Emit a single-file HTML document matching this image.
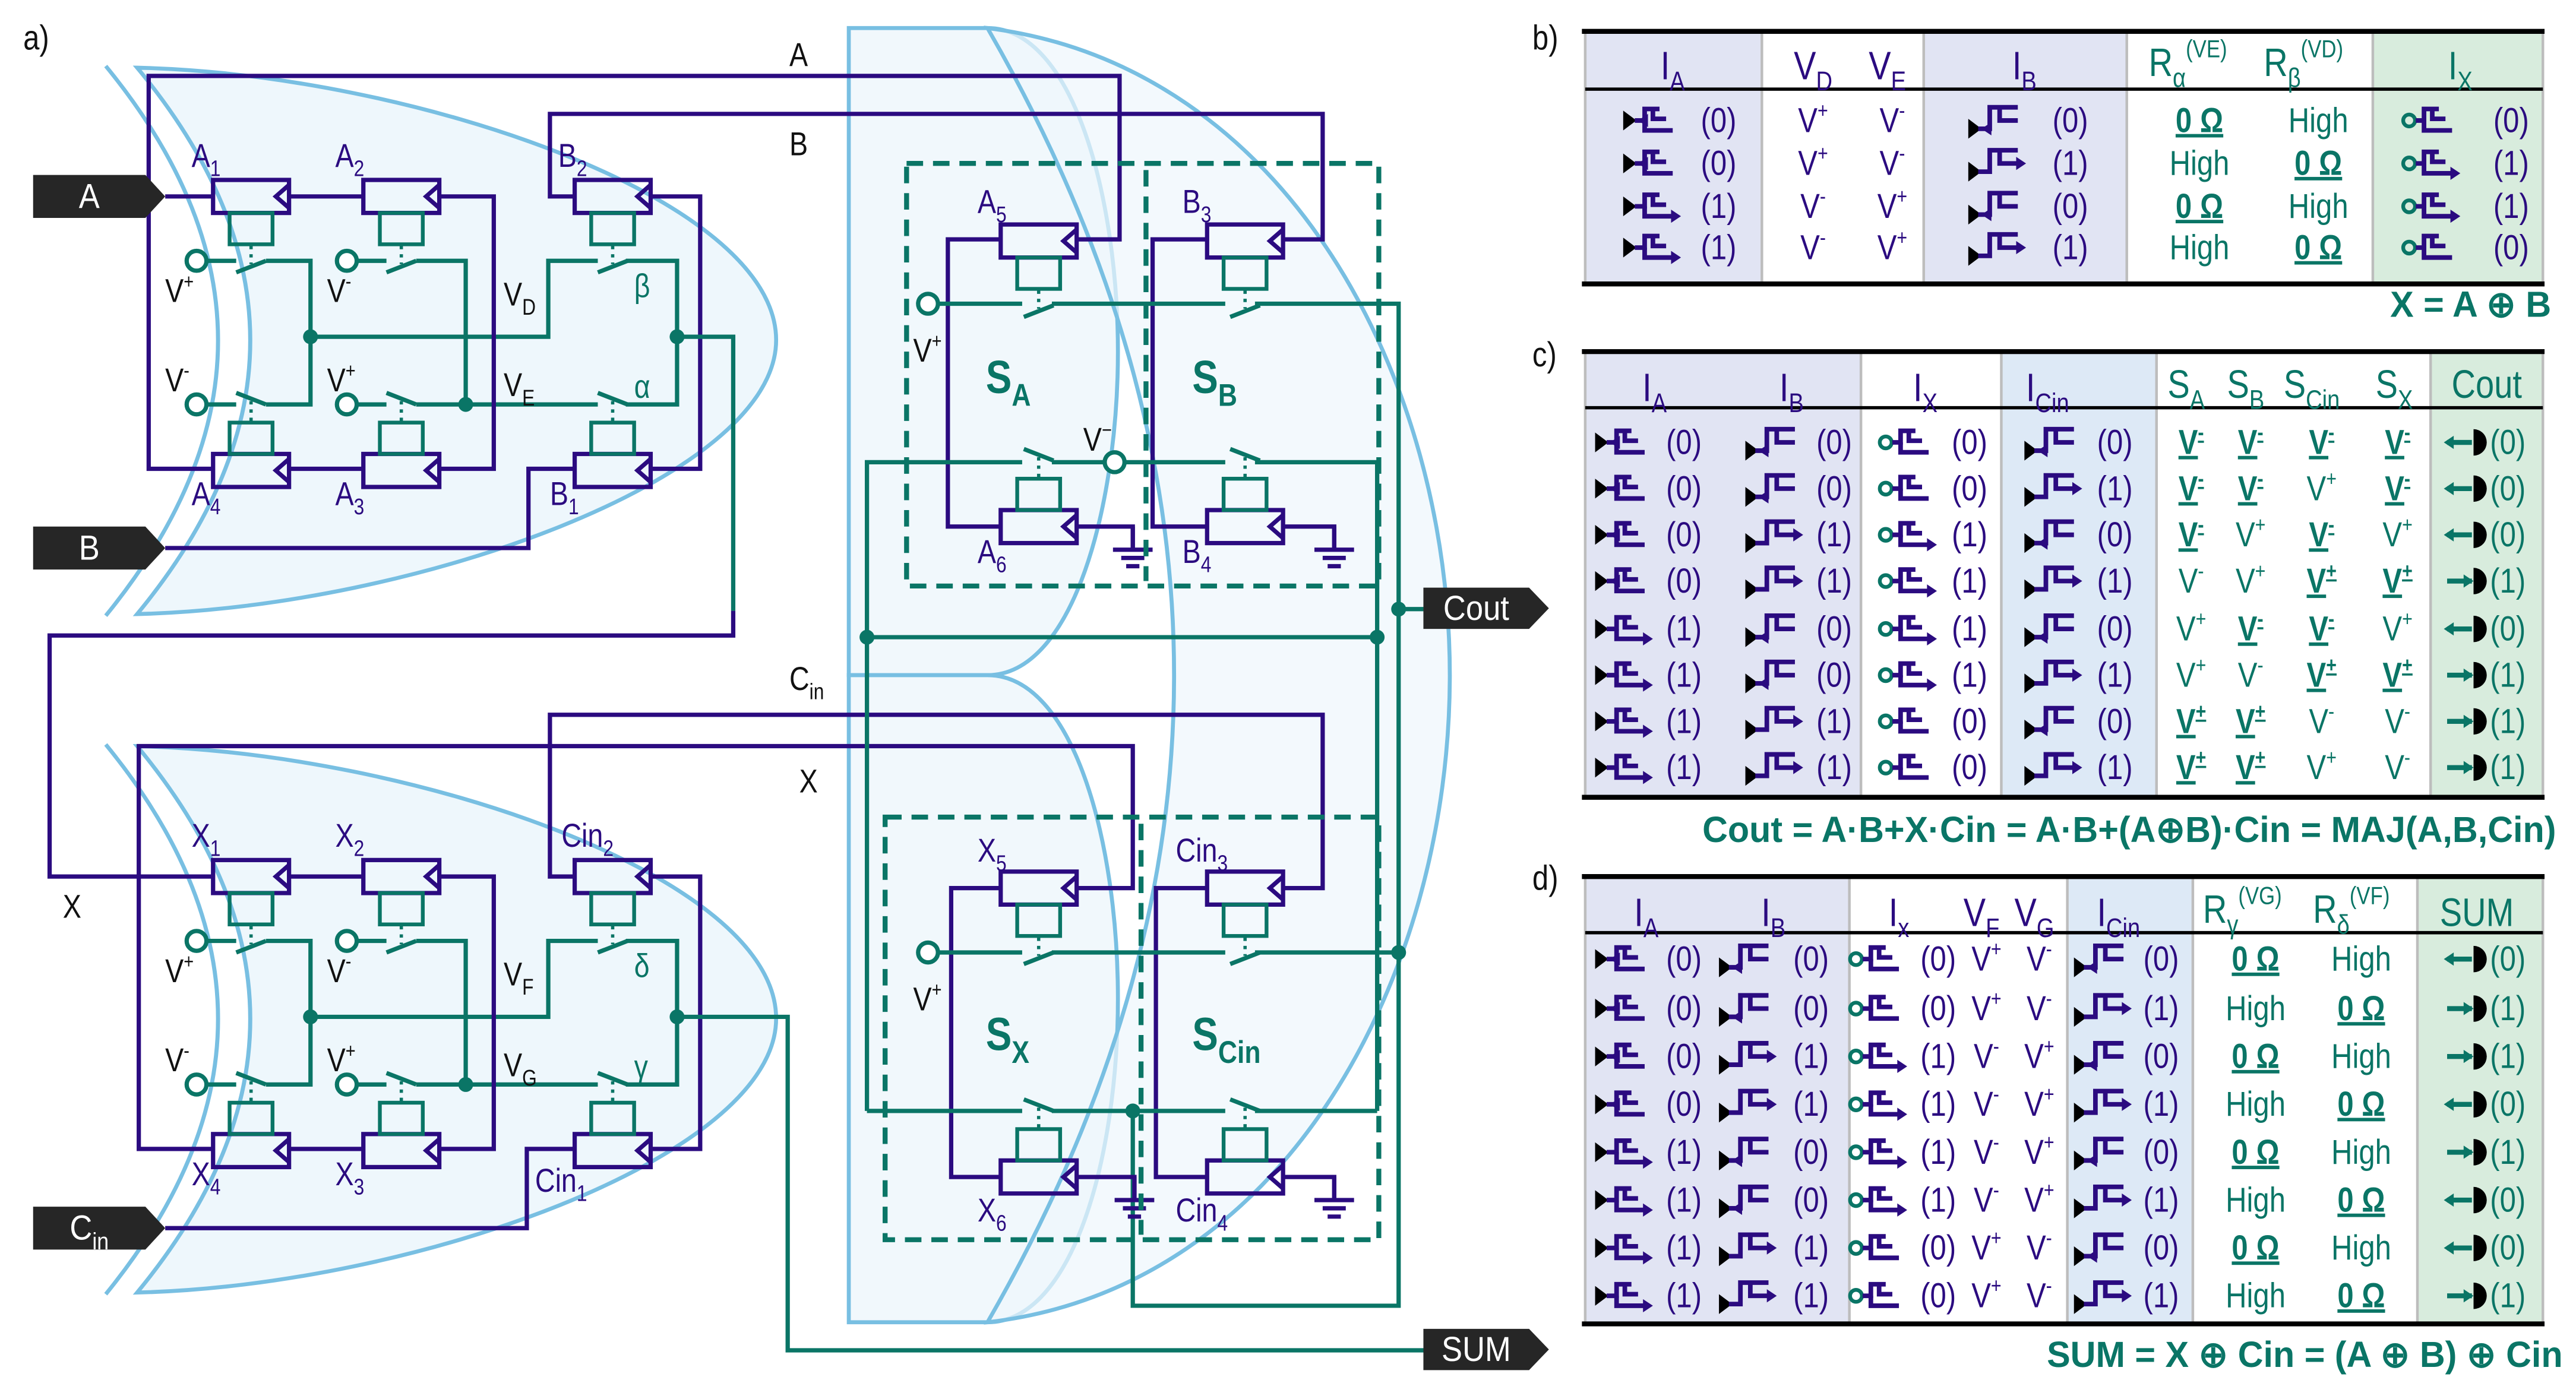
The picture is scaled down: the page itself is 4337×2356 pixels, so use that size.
<!DOCTYPE html>
<html><head><meta charset="utf-8"><style>
html,body{margin:0;padding:0;background:#fff;}
svg{display:block;}
</style></head><body>
<svg id="s" xmlns="http://www.w3.org/2000/svg" width="4337" height="2356" viewBox="0 0 1560 847.5" font-family="'Liberation Sans Narrow','Liberation Sans',sans-serif"></svg>
<script>
const P='#2b0b80',T='#0a7566',BF='#eef7fc',BS='#78bfe2',K='#111';
let s='';
const p=(d,c,w=2.6,ex='')=>{s+=`<path d="${d}" fill="none" stroke="${c}" stroke-width="${w}" stroke-linejoin="miter" ${ex}/>`;};
const dot=(x,y,c=T,r=4.5)=>{s+=`<circle cx="${x}" cy="${y}" r="${r}" fill="${c}"/>`;};
const circ=(x,y)=>{s+=`<circle cx="${x}" cy="${y}" r="6" fill="#fff" stroke="${T}" stroke-width="2.6"/>`;};
function txt(x,y,main,o={}){
  const sz=o.size||20,c=o.c||K,a=o.a||'start',w=o.bold?'bold':'normal',sc=o.sc||0.84;
  let t=`<text transform="translate(${x},${y}) scale(${sc},1)" x="0" y="0" font-size="${sz}" fill="${c}" text-anchor="${a}" font-weight="${w}"${o.u?' text-decoration="underline"':''}>${main}`;
  if(o.sub){t+=`<tspan font-size="${sz*.68}" dy="${sz*.28}">${o.sub}</tspan>`;}
  if(o.sup){t+=`<tspan font-size="${sz*.62}" dy="${o.sub?-sz*.75:-sz*.42}">${o.sup}</tspan>`;}
  t+='</text>';s+=t;
}
function relay(x,y,below){
  s+=`<rect x="${x}" y="${y}" width="46" height="20" fill="none" stroke="${P}" stroke-width="2.6"/>`;
  p(`M${x+46},${y+3} L${x+38},${y+10} L${x+46},${y+17}`,P,2.6);
  if(below){s+=`<rect x="${x+10}" y="${y+20}" width="26" height="19" fill="none" stroke="${T}" stroke-width="2.3"/>`;
    const ys=y+49;p(`M${x+14},${ys+7} L${x+32},${ys}`,T,2.6);p(`M${x+23},${y+40} V${ys+2}`,T,2,'stroke-dasharray="2,3"');}
  else{s+=`<rect x="${x+10}" y="${y-19}" width="26" height="19" fill="none" stroke="${T}" stroke-width="2.3"/>`;
    const ys=y-30;p(`M${x+14},${ys-7} L${x+32},${ys}`,T,2.6);p(`M${x+23},${ys-2} V${y-20}`,T,2,'stroke-dasharray="2,3"');}
}
function tag(x,y,w,h,label,sub){
  s+=`<path d="M${x},${y} H${x+w-12} L${x+w},${y+h/2} L${x+w-12},${y+h} H${x} Z" fill="#262626"/>`;
  txt(x+(w-12)/2,y+h/2+7,label,{c:'#fff',a:'middle',size:21,sub:sub,sc:0.9});
}
function xorShape(dy){
  s+=`<path d="M83,${41+dy} C250,${45+dy} 470,${120+dy} 470,${206+dy} C470,${290+dy} 250,${368+dy} 83,${372+dy} Q220,${206+dy} 83,${41+dy} Z" fill="${BF}" stroke="${BS}" stroke-width="2.4"/>`;
  p(`M64,${40+dy} Q200,${206+dy} 64,${373+dy}`,BS,2.4);
}
xorShape(0);xorShape(411);
s+=`<path d="M514,17 H598 C650,17 677,120 677,213 C677,306 650,409 598,409 H514 Z" fill="${BF}" fill-opacity="0.85" stroke="${BS}" stroke-width="2.4"/>`;
s+=`<path d="M514,409 H598 C650,409 677,510 677,605 C677,700 650,801 598,801 H514 Z" fill="${BF}" fill-opacity="0.85" stroke="${BS}" stroke-width="2.4"/>`;
s+=`<path d="M598,17 C780,40 878,230 878,409 C878,590 780,780 598,801 Q824,409 598,17 Z" fill="${BF}" fill-opacity="0.7" stroke="${BS}" stroke-width="2.4"/>`;
function leftTeal(dy){
  circ(119,158+dy);circ(210,158+dy);circ(119,245+dy);circ(210,245+dy);
  p(`M125,${158+dy} H143`,T);p(`M161,${158+dy} H188 V${245+dy} H161`,T);p(`M125,${245+dy} H143`,T);
  p(`M216,${158+dy} H234`,T);p(`M252,${158+dy} H282 V${245+dy} H252`,T);p(`M216,${245+dy} H234`,T);
  p(`M188,${204+dy} H332 V${158+dy} H362`,T);p(`M379,${158+dy} H410 V${245+dy} H379`,T);p(`M362,${245+dy} H282`,T);
  dot(188,204+dy);dot(282,245+dy);dot(410,204+dy);
  [129,220,348].forEach(x=>{relay(x,109+dy,true);relay(x,275+dy,false);});
  p(`M176,${119+dy} H220`,P);p(`M267,${119+dy} H299 V${284+dy} H267`,P);p(`M220,${284+dy} H176`,P);
  p(`M394,${119+dy} H424 V${284+dy} H394`,P);
}
leftTeal(0);leftTeal(412);
p(`M100,119 H129`,P);
p(`M653,145 H678 V46 H90 V284 H129`,P);
p(`M777,145 H801 V69 H333 V119 H348`,P);
p(`M348,284 H320 V332 H100`,P);
p(`M653,538 H686 V452 H84 V696 H129`,P);
p(`M444,370 V385 H30 V531 H129`,P);
p(`M777,538 H801 V433 H333 V531 H348`,P);
p(`M348,696 H319 V744 H100`,P);
p(`M410,204 H444 V370`,T);
p(`M410,616 H477 V818 H866`,T);
function ground(x,y){p(`M${x},${y-14} V${y}`,P);p(`M${x-12},${y} H${x+12}`,P);p(`M${x-7},${y+5} H${x+7}`,P);p(`M${x-4},${y+10} H${x+4}`,P);}
relay(606,136,true);relay(731,136,true);relay(606,309,false);relay(731,309,false);
p(`M606,145 H574 V319 H606`,P);p(`M653,319 H686 V333`,P);ground(686,333);
p(`M731,145 H698 V319 H731`,P);p(`M777,319 H808 V333`,P);ground(808,333);
circ(562,184);
p(`M568,184 H619`,T);p(`M637,184 H742`,T);p(`M760,184 H847 V791 H686 V673`,T);
p(`M525,673 V280 H619`,T);p(`M637,280 H669`,T);circ(675,280);p(`M681,280 H742`,T);p(`M760,280 H834 V673`,T);
p(`M525,386 H834`,T);dot(525,386);dot(834,386);dot(847,369);p(`M847,369 H862`,T);
relay(606,528,true);relay(731,528,true);relay(606,703,false);relay(731,703,false);
p(`M606,538 H576 V713 H606`,P);p(`M653,713 H687 V727`,P);ground(687,727);
p(`M731,538 H700 V713 H731`,P);p(`M777,713 H808 V727`,P);ground(808,727);
circ(562,577);p(`M568,577 H619`,T);p(`M637,577 H742`,T);p(`M760,577 H847`,T);dot(847,577);
p(`M525,673 H619`,T);p(`M637,673 H742`,T);p(`M760,673 H834`,T);dot(686,673);
const DA='stroke-dasharray="10,6"';
s+=`<rect x="549" y="99" width="286" height="256" fill="none" stroke="${T}" stroke-width="3" ${DA}/>`;
p(`M694,103 V352`,T,3,DA);
s+=`<rect x="536" y="495" width="299" height="256" fill="none" stroke="${T}" stroke-width="3" ${DA}/>`;
p(`M691,499 V748`,T,3,DA);
tag(20,106,80,26,'A');tag(20,319,80,26,'B');tag(20,731,80,26,'C','in');
tag(862,356,76,25,'Cout');tag(862,805,76,25,'SUM');
txt(14,30,'a)',{size:21});txt(928,30,'b)',{size:21});txt(928,222,'c)',{size:21});txt(928,539,'d)',{size:21});
txt(478,40,'A',{size:20});txt(478,94,'B',{size:20});txt(478,418,'C',{size:20,sub:'in'});txt(484,480,'X',{size:20});txt(38,556,'X',{size:20});
const pl={c:P,size:20};
txt(116,101,'A',{...pl,sub:'1'});txt(203,101,'A',{...pl,sub:'2'});txt(338,101,'B',{...pl,sub:'2'});
txt(116,306,'A',{...pl,sub:'4'});txt(203,306,'A',{...pl,sub:'3'});txt(333,306,'B',{...pl,sub:'1'});
txt(116,513,'X',{...pl,sub:'1'});txt(203,513,'X',{...pl,sub:'2'});txt(340,513,'Cin',{...pl,sub:'2'});
txt(116,718,'X',{...pl,sub:'4'});txt(203,718,'X',{...pl,sub:'3'});txt(324,722,'Cin',{...pl,sub:'1'});
[[0,'D','E','β','α'],[412,'F','G','δ','γ']].forEach(([dy,a,b,g1,g2])=>{
  txt(100,183+dy,'V',{sup:'+'});txt(198,183+dy,'V',{sup:'-'});txt(305,185+dy,'V',{sub:a});txt(384,180+dy,g1,{c:T});
  txt(100,237+dy,'V',{sup:'-'});txt(198,237+dy,'V',{sup:'+'});txt(305,240+dy,'V',{sub:b});txt(384,241+dy,g2,{c:T});
});
txt(592,129,'A',{...pl,sub:'5'});txt(716,129,'B',{...pl,sub:'3'});txt(592,341,'A',{...pl,sub:'6'});txt(716,341,'B',{...pl,sub:'4'});
txt(592,522,'X',{...pl,sub:'5'});txt(712,522,'Cin',{...pl,sub:'3'});txt(592,740,'X',{...pl,sub:'6'});txt(712,740,'Cin',{...pl,sub:'4'});
txt(553,219,'V',{sup:'+'});txt(656,273,'V',{sup:'−'});txt(553,612,'V',{sup:'+'});
const sb={c:T,size:28,bold:true};
txt(597,238,'S',{...sb,sub:'A'});txt(722,238,'S',{...sb,sub:'B'});txt(597,636,'S',{...sb,sub:'X'});txt(722,636,'S',{...sb,sub:'Cin'});
function arrowHead(x,y,dir,c){s+=`<path d="M${x},${y} l${-6*dir},-4 v8 Z" fill="${c}"/>`;}
function icon(kind,x,yc,st){
  const c=P;
  if(kind==='A'){s+=`<path d="M${x},${yc-6} L${x+8},${yc} L${x},${yc+6} Z" fill="#000"/>`;
    p(`M${x+7},${yc} H${x+13} V${yc-7} H${x+22}`,c,2.8);p(`M${x+13},${yc} V${yc+6} H${x+30}`,c,2.8);p(`M${x+18},${yc-7} V${yc-1} H${x+26}`,c,2.8);
    if(st)arrowHead(x+35,yc+6,1,c);else arrowHead(x+9,yc,-1,c);}
  else if(kind==='B'){s+=`<path d="M${x},${yc-1} L${x+8},${yc+5} L${x},${yc+11} Z" fill="#000"/>`;
    p(`M${x+6},${yc+5} H${x+13} V${yc-8} H${x+30}`,c,2.8);p(`M${x+19},${yc-8} V${yc} H${x+30}`,c,2.8);
    if(st)arrowHead(x+35,yc,1,c);else arrowHead(x+8,yc+5,-1,c);}
  else if(kind==='X'){s+=`<circle cx="${x+4}" cy="${yc}" r="3.6" fill="none" stroke="${T}" stroke-width="2.3"/>`;
    p(`M${x+8},${yc} H${x+13} V${yc-7} H${x+22}`,c,2.8);p(`M${x+13},${yc} V${yc+6} H${x+30}`,c,2.8);p(`M${x+18},${yc-7} V${yc-1} H${x+26}`,c,2.8);
    if(st)arrowHead(x+35,yc+6,1,c);}
  else{
    p(`M${x+2},${yc} H${x+17}`,T,3);
    if(st)arrowHead(x+18,yc,1,T);else arrowHead(x,yc,-1,T);
    s+=`<path d="M${x+18},${yc-8} A8,8 0 0 1 ${x+18},${yc+8} Z" fill="#000"/>`;}
}
function rectf(x,y,w,h,c){s+=`<rect x="${x}" y="${y}" width="${w}" height="${h}" fill="${c}"/>`;}
const LAV='#e1e4f3',GRN='#d8ecdd',LB='#dde9f6',GR='#bdbdbd';
function frame(x0,x1,top,hb,bot,cols){
  cols.forEach(([a,b,c])=>{if(c)rectf(a,top,b-a,bot-top,c);});
  cols.slice(1).forEach(([a])=>p(`M${a},${top} V${bot}`,GR,1.6));
  p(`M${x1},${top} V${bot}`,GR,1.6);p(`M${x0},${top} V${bot}`,GR,1.6);
  p(`M${x0-2},${top} H${x1+1}`,'#000',3);p(`M${x0},${hb} H${x1}`,'#000',2);p(`M${x0-2},${bot} H${x1+1}`,'#000',3);
}
const val=v=>`(${v})`;
const R0={c:T,size:21,bold:true,u:true,a:'middle'},RH={c:T,size:21,a:'middle'};
frame(960,1540,19,54,172,[[960,1067,LAV],[1067,1165,null],[1165,1288,LAV],[1288,1437,null],[1437,1540,GRN]]);
const hb={c:P,size:24,a:'middle'};
txt(1013,48,'I',{...hb,sub:'A'});txt(1098,48,'V',{...hb,sub:'D'});txt(1143,48,'V',{...hb,sub:'E'});txt(1226,48,'I',{...hb,sub:'B'});
txt(1325,46,'R',{c:T,size:24,a:'middle',sub:'α',sup:'(VE)'});txt(1395,46,'R',{c:T,size:24,a:'middle',sub:'β',sup:'(VD)'});txt(1490,48,'I',{c:T,size:24,a:'middle',sub:'X'});
const bA=[0,0,1,1],bB=[0,1,0,1],bX=[0,1,1,0];
[73,99,125,150].forEach((y,i)=>{
  icon('A',983,y,bA[i]);txt(1030,y+7,val(bA[i]),{c:P,size:21});
  txt(1098,y+7,'V',{c:P,size:21,a:'middle',sup:i<2?'+':'-'});txt(1146,y+7,'V',{c:P,size:21,a:'middle',sup:i<2?'-':'+'});
  icon('B',1192,y,bB[i]);txt(1243,y+7,val(bB[i]),{c:P,size:21});
  const z=i%2===0;txt(1332,y+7,z?'0 Ω':'High',z?R0:RH);txt(1404,y+7,z?'High':'0 Ω',z?RH:R0);
  icon('X',1455,y,bX[i]);txt(1510,y+7,val(bX[i]),{c:P,size:21});
});
txt(1545,192,'X = A ⊕ B',{c:T,size:22,bold:true,a:'end',sc:0.97});
frame(960,1540,213,247,483,[[960,1127,LAV],[1127,1212,null],[1212,1306,LB],[1306,1472,null],[1472,1540,GRN]]);
txt(1002,243,'I',{...hb,sub:'A'});txt(1085,243,'I',{...hb,sub:'B'});txt(1166,243,'I',{...hb,sub:'X'});txt(1240,243,'I',{...hb,sub:'Cin'});
const ht={c:T,size:24,a:'middle'};
txt(1324,241,'S',{...ht,sub:'A'});txt(1360,241,'S',{...ht,sub:'B'});txt(1400,241,'S',{...ht,sub:'Cin'});txt(1450,241,'S',{...ht,sub:'X'});
txt(1506,241,'Cout',ht);
const cA=[0,0,0,0,1,1,1,1],cB=[0,0,1,1,0,0,1,1],cX=[0,0,1,1,1,1,0,0],cC=[0,1,0,1,0,1,0,1],cO=[0,0,0,1,0,1,1,1];
const S=[['-u','-u','-u','-u'],['-u','-u','+','-u'],['-u','+','-u','+'],['-','+','+u','+u'],['+','-u','-u','+'],['+','-','+u','+u'],['+u','+u','-','-'],['+u','+u','+','-']];
const sx=[1327,1363,1406,1452];
[268,296,324,352,381,409,437,465].forEach((y,i)=>{
  icon('A',966,y,cA[i]);txt(1009,y+7,val(cA[i]),{c:P,size:21});
  icon('B',1057,y,cB[i]);txt(1100,y+7,val(cB[i]),{c:P,size:21});
  icon('X',1138,y,cX[i]);txt(1182,y+7,val(cX[i]),{c:P,size:21});
  icon('B',1226,y,cC[i]);txt(1270,y+7,val(cC[i]),{c:P,size:21});
  S[i].forEach((v,j)=>{const u=v.length>1;txt(sx[j],y+7,'V',{c:T,size:21,a:'middle',bold:u,u:u,sup:v[0]});});
  icon('O',1480,y,cO[i]);txt(1508,y+7,val(cO[i]),{c:T,size:21});
});
txt(1548,510,'Cout = A·B+X·Cin = A·B+(A⊕B)·Cin = MAJ(A,B,Cin)',{c:T,size:22,bold:true,a:'end',sc:0.97});
frame(960,1540,531,565,802,[[960,1120,LAV],[1120,1252,null],[1252,1328,LB],[1328,1464,null],[1464,1540,GRN]]);
txt(997,561,'I',{...hb,sub:'A'});txt(1074,561,'I',{...hb,sub:'B'});txt(1150,561,'I',{...hb,sub:'x'});txt(1200,561,'V',{...hb,sub:'F'});txt(1232,561,'V',{...hb,sub:'G'});txt(1283,561,'I',{...hb,sub:'Cin'});
txt(1358,559,'R',{c:T,size:24,a:'middle',sub:'γ',sup:'(VG)'});txt(1424,559,'R',{c:T,size:24,a:'middle',sub:'δ',sup:'(VF)'});txt(1500,561,'SUM',ht);
const dO=[0,1,1,0,1,0,0,1];
[581,611,640,669,698,727,756,785].forEach((y,i)=>{
  icon('A',966,y,cA[i]);txt(1009,y+7,val(cA[i]),{c:P,size:21});
  icon('B',1041,y,cB[i]);txt(1086,y+7,val(cB[i]),{c:P,size:21});
  icon('X',1120,y,cX[i]);txt(1163,y+7,val(cX[i]),{c:P,size:21});
  const vf=(cX[i]===0);txt(1203,y+7,'V',{c:P,size:21,a:'middle',sup:vf?'+':'-'});txt(1235,y+7,'V',{c:P,size:21,a:'middle',sup:vf?'-':'+'});
  icon('B',1256,y,cC[i]);txt(1298,y+7,val(cC[i]),{c:P,size:21});
  const z=i%2===0;txt(1366,y+7,z?'0 Ω':'High',z?R0:RH);txt(1430,y+7,z?'High':'0 Ω',z?RH:R0);
  icon('O',1480,y,dO[i]);txt(1508,y+7,val(dO[i]),{c:T,size:21});
});
txt(1552,828,'SUM = X ⊕ Cin = (A ⊕ B) ⊕ Cin',{c:T,size:22,bold:true,a:'end',sc:0.97});
document.getElementById('s').innerHTML=s;
</script>
</body></html>
